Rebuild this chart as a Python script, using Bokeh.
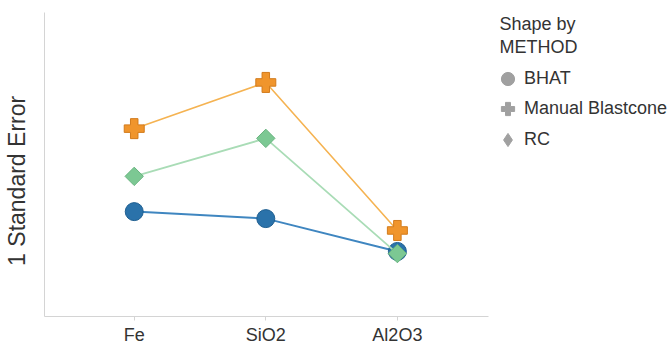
from bokeh.plotting import figure
from bokeh.models import Range1d, FixedTicker, Legend, LegendItem, Label, ColumnDataSource
from bokeh.embed import file_html
from bokeh.resources import INLINE
import math

categories = ["Fe", "SiO2", "Al2O3"]
bhat = [0.345, 0.322, 0.214]
manual_blastcone = [0.618, 0.770, 0.283]
rc = [0.461, 0.586, 0.207]
methods = ["BHAT", "Manual Blastcone", "RC"]
legend_title = ["Shape by", "METHOD"]

FONT = "Liberation Sans"
TXT = "#333333"

xpos = list(range(len(categories)))

p = figure(width=672, height=347, output_backend="svg", toolbar_location=None,
           x_range=Range1d(-0.682, 4.091), y_range=Range1d(0, 1.0395),
           min_border_left=42, min_border_top=0, min_border_right=0, min_border_bottom=31)
p.outline_line_color = None
p.xgrid.visible = False
p.ygrid.visible = False

# x axis (only spans the data area)
p.xaxis.bounds = (-0.682, 2.689)
p.xaxis.ticker = FixedTicker(ticks=xpos)
p.xaxis.major_label_overrides = {i: c for i, c in zip(xpos, categories)}
p.xaxis.axis_line_color = "#d4d4d4"
p.xaxis.major_tick_line_color = "#d4d4d4"
p.xaxis.major_tick_out = 4
p.xaxis.major_tick_in = 0
p.xaxis.minor_tick_line_color = None
p.xaxis.major_label_standoff = 4
p.xaxis.major_label_text_font = FONT
p.xaxis.major_label_text_font_size = "18px"
p.xaxis.major_label_text_color = TXT

# y axis (no ticks)
p.yaxis.bounds = (0, 1)
p.yaxis.ticker = FixedTicker(ticks=[])
p.yaxis.axis_line_color = "#d4d4d4"
p.yaxis.major_tick_out = 0
p.yaxis.major_tick_in = 0
p.yaxis.minor_tick_line_color = None
p.yaxis.axis_label = "1 Standard Error" + "\u00a0" * 7
p.yaxis.axis_label_text_font = FONT
p.yaxis.axis_label_text_font_size = "23px"
p.yaxis.axis_label_text_font_style = "normal"
p.yaxis.axis_label_text_color = TXT
p.yaxis.axis_label_standoff = 15

src = ColumnDataSource(dict(x=xpos, bhat=bhat, manual=manual_blastcone, rc=rc))

# BHAT (blue circles)
p.line("x", "bhat", source=src, line_color="#3f86c0", line_width=2)
p.scatter("x", "bhat", source=src, marker="circle", size=18,
          fill_color="#2a72aa", line_color="#1f5f91", line_width=1)

# RC (green diamonds)
p.line("x", "rc", source=src, line_color="#a9dcb6", line_width=1.8)
p.scatter("x", "rc", source=src, marker="square", size=13, angle=math.pi / 4,
          fill_color="#7cc893", line_color="#67b37e", line_width=1)

# Manual Blastcone (orange plus)
p.line("x", "manual", source=src, line_color="#f5b352", line_width=1.6)
p.scatter("x", "manual", source=src, marker="plus", size=20,
          fill_color="#f0952c", line_color="#d27b1c", line_width=1)

# legend swatches: dummy renderers whose single point lies outside the visible range
dummy = ColumnDataSource(dict(x=[-10], y=[-10]))
GRAY = "#a0a0a0"
g1 = p.scatter("x", "y", source=dummy, marker="circle", fill_color=GRAY, line_color=GRAY)
g2 = p.scatter("x", "y", source=dummy, marker="plus", fill_color=GRAY, line_color=GRAY)
g3 = p.scatter("x", "y", source=dummy, marker="diamond", fill_color=GRAY, line_color=GRAY)

common = dict(orientation="vertical", glyph_width=33, glyph_height=33, spacing=0, label_standoff=0,
              padding=0, margin=0, border_line_color=None, background_fill_alpha=0,
              label_text_font=FONT, label_text_font_size="18px", label_text_color=TXT)
for name, rend, ly in ((methods[0], g1, 221), (methods[1], g2, 191), (methods[2], g3, 160)):
    p.add_layout(Legend(items=[LegendItem(label=name, renderers=[rend])],
                        location=(447, ly), **common), "center")

for txt, yy in zip(legend_title, (293, 270)):
    p.add_layout(Label(x=455, y=yy, x_units="screen", y_units="screen", text=txt,
                       text_font=FONT, text_font_size="18px", text_color=TXT,
                       text_baseline="alphabetic", text_align="left"))

open("out.html", "w").write(file_html(p, INLINE))
